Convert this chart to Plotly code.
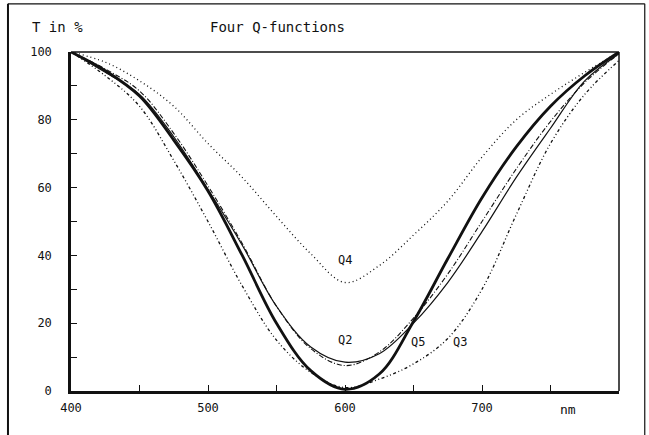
import plotly.graph_objects as go

# wavelengths (nm)
wl = [400, 425, 450, 475, 500, 525, 550, 575, 600, 625, 650, 675, 700, 725, 750, 775, 800]

# transmittance in % for each curve
q5_thick = [100, 94.5, 87, 74, 59, 40, 20, 6, 0.5, 5, 20.5, 39, 57, 72, 84, 93, 100]
q2_thin = [100, 94, 87.5, 75, 59.5, 43, 25, 13, 8.5, 11, 20, 32, 47, 63, 77.5, 91.5, 99.5]
q2_dashdot = [100, 95, 88.5, 76, 60.5, 43.5, 25, 12.5, 7.5, 11.5, 21.5, 34.5, 50, 65.5, 79.5, 91, 99.5]
q4_dotted = [100, 97, 91.5, 84, 73, 63, 51.5, 40.5, 32, 37, 46, 56, 69, 80, 87.5, 94, 100]
q3_dotdash = [100, 93, 84, 68, 50, 31, 15, 5.5, 1, 3.5, 8, 15.5, 30, 52, 73, 87.5, 97.5]

# curve labels
label_text = ["Q4", "Q2", "Q5", "Q3"]
label_x = [600, 600, 653, 684]
label_y = [38.6, 15, 14.5, 14.5]

x_tickvals = [400, 450, 500, 550, 600, 650, 700, 750]
x_ticktext = ["400", "", "500", "", "600", "", "700", ""]
y_tickvals = [0, 10, 20, 30, 40, 50, 60, 70, 80, 90, 100]
y_ticktext = ["0", "", "20", "", "40", "", "60", "", "80", "", "100"]

FONT = "DejaVu Sans Mono"
INK = "#111111"

fig = go.Figure()
fig.add_trace(go.Scatter(x=wl, y=q4_dotted, mode="lines", line=dict(color=INK, width=1.3, dash="1px,3px", shape="spline"), name="Q4"))
fig.add_trace(go.Scatter(x=wl, y=q3_dotdash, mode="lines", line=dict(color=INK, width=1.3, dash="1px,2.5px,1px,2.5px,3px,2.5px", shape="spline"), name="Q3"))
fig.add_trace(go.Scatter(x=wl, y=q2_dashdot, mode="lines", line=dict(color=INK, width=1.1, dash="5px,2px,1px,2px", shape="spline"), name="Q2b"))
fig.add_trace(go.Scatter(x=wl, y=q2_thin, mode="lines", line=dict(color=INK, width=1.2, shape="spline"), name="Q2"))
fig.add_trace(go.Scatter(x=wl, y=q5_thick, mode="lines", line=dict(color=INK, width=2.8, shape="spline"), name="Q5"))

for t, x, y in zip(label_text, label_x, label_y):
    fig.add_annotation(x=x, y=y, text=t, showarrow=False, font=dict(family=FONT, size=12, color=INK), bgcolor="rgba(0,0,0,0)")

# titles / axis unit labels
fig.add_annotation(xref="paper", yref="paper", x=-0.075, y=1.0737, xanchor="left", yanchor="middle",
                   text="T in %", showarrow=False, font=dict(family=FONT, size=14, color=INK))
fig.add_annotation(xref="paper", yref="paper", x=0.376, y=1.0737, xanchor="center", yanchor="middle",
                   text="Four Q-functions", showarrow=False, font=dict(family=FONT, size=14, color=INK))
fig.add_annotation(xref="paper", yref="paper", x=0.907, y=-0.056, xanchor="center", yanchor="middle",
                   text="nm", showarrow=False, font=dict(family=FONT, size=13, color=INK))

# plot box: top and right thin lines
fig.add_shape(type="line", xref="paper", yref="paper", x0=0, x1=1, y0=1, y1=1, line=dict(color=INK, width=1.5))
fig.add_shape(type="line", xref="paper", yref="paper", x0=1, x1=1, y0=0, y1=1, line=dict(color=INK, width=1.5))
# outer frame
fig.add_shape(type="line", xref="paper", yref="paper", x0=-0.115, x1=-0.115, y0=-0.2, y1=1.142, line=dict(color=INK, width=2))
fig.add_shape(type="line", xref="paper", yref="paper", x0=-0.115, x1=1.047, y0=1.142, y1=1.142, line=dict(color=INK, width=1.2))
fig.add_shape(type="line", xref="paper", yref="paper", x0=1.047, x1=1.047, y0=-0.2, y1=1.142, line=dict(color=INK, width=1.2))

fig.update_xaxes(range=[400, 800], tickvals=x_tickvals, ticktext=x_ticktext, ticks="inside", ticklen=6,
                 tickwidth=1.2, tickcolor=INK, showline=True, linecolor=INK, linewidth=2.5, showgrid=False,
                 zeroline=False, ticklabelstandoff=4, tickfont=dict(family=FONT, size=12, color=INK))
fig.update_yaxes(range=[0, 100], tickvals=y_tickvals, ticktext=y_ticktext, ticks="inside", ticklen=6,
                 tickwidth=1.2, tickcolor=INK, showline=True, linecolor=INK, linewidth=2.5, showgrid=False,
                 zeroline=False, ticklabelstandoff=14, tickfont=dict(family=FONT, size=12, color=INK))

fig.update_layout(width=649, height=435, margin=dict(l=71, r=30, t=52, b=44),
                  paper_bgcolor="white", plot_bgcolor="white", showlegend=False)

fig.write_html("out.html")
